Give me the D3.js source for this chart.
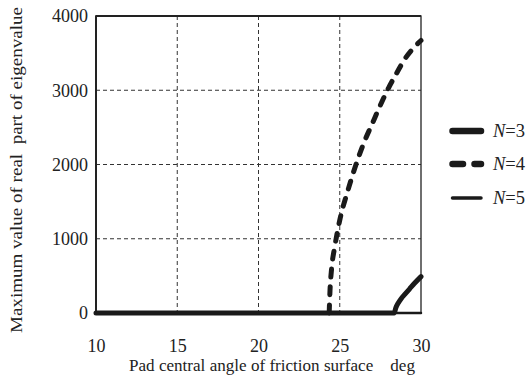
<!DOCTYPE html>
<html><head><meta charset="utf-8">
<script src="https://cdn.jsdelivr.net/npm/d3@7"></script>
<style>body{margin:0;background:#fff}svg{display:block}</style>
</head><body>
<svg id="c" width="526" height="376"></svg>
<script>
const xTicks = [10, 15, 20, 25, 30];
const yTicks = [0, 1000, 2000, 3000, 4000];
const seriesNames = ["3", "4", "5"];
const n3Angle = [10, 28.35, 28.45, 28.6, 28.8, 29, 29.3, 29.6, 30];
const n3Value = [0, 0, 70, 135, 200, 250, 325, 400, 490];
const n4Angle = [24.35, 24.4, 24.5, 24.7, 25, 25.5, 26, 26.5, 27, 27.5, 28, 28.5, 29, 29.5, 30];
const n4Value = [0, 300, 600, 900, 1250, 1650, 2000, 2300, 2550, 2800, 3030, 3230, 3420, 3560, 3670];
const n5Angle = [10, 30];
const n5Value = [0, 0];
const xLabel = "Pad central angle of friction surface    deg";
const yLabel = "Maximum value of real  part of eigenvalue";

const FONT = "Liberation Serif";
const svg = d3.select("#c");
const L = 96, R = 421, T = 16, B = 313;
const x = d3.scaleLinear().domain([10, 30]).range([L, R]);
const y = d3.scaleLinear().domain([0, 4000]).range([B, T]);

// grid
svg.append("g").selectAll("line").data(xTicks.filter(d => d > 10 && d < 30)).join("line")
  .attr("x1", d => x(d)).attr("x2", d => x(d)).attr("y1", T).attr("y2", B)
  .attr("stroke", "#333").attr("stroke-width", 1).attr("stroke-dasharray", "4,3");
svg.append("g").selectAll("line").data(yTicks.filter(d => d > 0 && d < 4000)).join("line")
  .attr("x1", L).attr("x2", R).attr("y1", d => y(d)).attr("y2", d => y(d))
  .attr("stroke", "#333").attr("stroke-width", 1).attr("stroke-dasharray", "4,3");

// frame
svg.append("rect").attr("x", L).attr("y", T).attr("width", R - L).attr("height", B - T)
  .attr("fill", "none").attr("stroke", "#222").attr("stroke-width", 1.3);
svg.append("line").attr("x1", L).attr("x2", L).attr("y1", T - 0.5).attr("y2", B)
  .attr("stroke", "#222").attr("stroke-width", 2);
svg.append("line").attr("x1", L).attr("x2", R).attr("y1", T).attr("y2", T)
  .attr("stroke", "#222").attr("stroke-width", 2);

// axes (labels only)
const xAxis = svg.append("g").attr("transform", `translate(0,${B})`)
  .call(d3.axisBottom(x).tickValues(xTicks).tickFormat(d3.format("d")).tickSize(0).tickPadding(26));
const yAxis = svg.append("g").attr("transform", `translate(${L},0)`)
  .call(d3.axisLeft(y).tickValues(yTicks).tickFormat(d3.format("d")).tickSize(0).tickPadding(8));
[xAxis, yAxis].forEach(g => {
  g.attr("font-family", null).attr("font-size", null);
  g.select(".domain").remove();
  g.selectAll("text").style("font-family", FONT).style("font-size", "18px").attr("fill", "#222");
});

// series
const line = d3.line().x(d => x(d[0])).y(d => y(d[1])).curve(d3.curveMonotoneX);
const zip = (a, b) => a.map((v, i) => [v, b[i]]);
const styles = [
  {w: 5, dash: null},
  {w: 5, dash: "8,10"},
  {w: 2.5, dash: null}
];
const data = [zip(n5Angle, n5Value), zip(n4Angle, n4Value), zip(n3Angle, n3Value)];
const st = [styles[2], styles[1], styles[0]];
data.forEach((d, i) => {
  svg.append("path").attr("d", line(d)).attr("fill", "none").attr("stroke", "#1a1a1a")
    .attr("stroke-width", st[i].w).attr("stroke-linecap", "round")
    .attr("stroke-dasharray", st[i].dash);
});

// legend
const leg = svg.append("g");
const legY = [131, 164, 198];
const legW = [6.5, 6.5, 3.5];
seriesNames.forEach((n, i) => {
  leg.append("line").attr("x1", 452.5).attr("x2", 481).attr("y1", legY[i]).attr("y2", legY[i])
    .attr("stroke", "#1a1a1a").attr("stroke-width", legW[i]).attr("stroke-linecap", "round")
    .attr("stroke-dasharray", i === 1 ? "10.5,11.5" : null);
  const t = leg.append("text").attr("x", 493).attr("y", legY[i] + 6)
    .style("font-family", FONT).style("font-size", "18.5px").attr("fill", "#222");
  t.append("tspan").style("font-style", "italic").text("N");
  t.append("tspan").text("=" + n);
});

// titles
svg.append("text").attr("x", 129).attr("y", 371)
  .style("font-family", FONT).style("font-size", "16.5px").style("white-space", "pre")
  .attr("fill", "#222").attr("textLength", 286).attr("lengthAdjust", "spacingAndGlyphs").text(xLabel);
svg.append("text").attr("transform", "translate(21.5,333) rotate(-90)")
  .style("font-family", FONT).style("font-size", "17px").style("white-space", "pre")
  .attr("fill", "#222").attr("textLength", 326).attr("lengthAdjust", "spacingAndGlyphs").text(yLabel);
</script>
</body></html>
